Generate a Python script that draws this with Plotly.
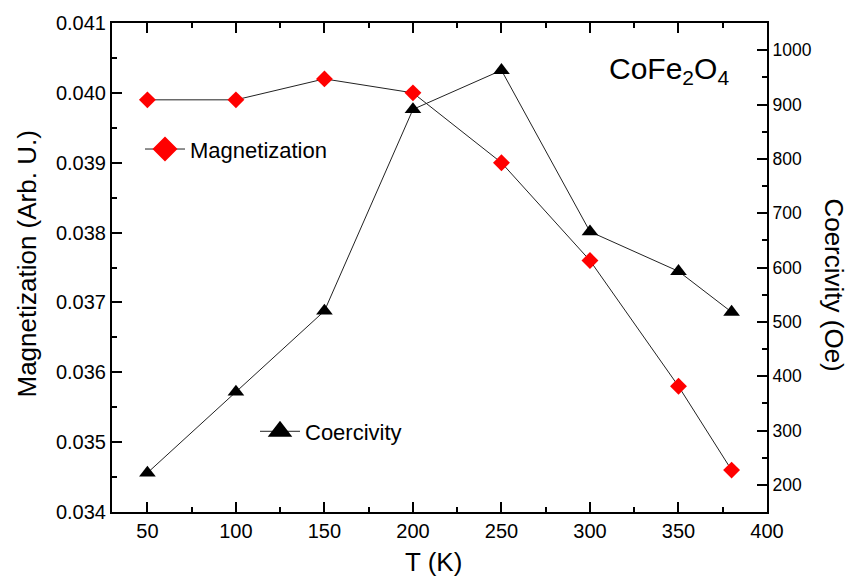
import plotly.graph_objects as go

# Data
temperature = [50, 100, 150, 200, 250, 300, 350, 380]
magnetization = [0.0399, 0.0399, 0.0402, 0.0400, 0.0390, 0.0376, 0.0358, 0.0346]
coercivity = [222, 371, 520, 891, 963, 666, 593, 518]

x_range = [30, 400]
y_left_range = [0.034, 0.041]
y_right_range = [150, 1050]

FONT = "Liberation Sans, Arial, sans-serif"

# pixel helpers for layout placement (paper coords)
L, R, T, B = 112, 85, 20, 71
W, H = 852, 583
PW, PH = W - L - R, H - T - B


def px(x):
    return (x - L) / PW


def py(y):
    return 1 - (y - T) / PH


fig = go.Figure()

fig.add_trace(go.Scatter(
    x=temperature, y=magnetization, name="Magnetization",
    mode="lines+markers", showlegend=False,
    line=dict(color="#222222", width=1),
    marker=dict(symbol="diamond", size=13, color="#ff0000", line=dict(width=0)),
))

fig.add_trace(go.Scatter(
    x=temperature, y=coercivity, name="Coercivity",
    mode="lines+markers", yaxis="y2", showlegend=False,
    line=dict(color="#222222", width=1),
    marker=dict(symbol="triangle-up", size=14.5, color="#000000", line=dict(width=0)),
))

# legend entries (larger symbols, like the reference's legend)
fig.add_trace(go.Scatter(
    x=[None], y=[None], name="Magnetization", mode="lines+markers",
    line=dict(color="#222222", width=1),
    marker=dict(symbol="diamond", size=16, color="#ff0000", line=dict(width=3, color="#ff0000")),
    legend="legend",
))
fig.add_trace(go.Scatter(
    x=[None], y=[None], name="Coercivity", mode="lines+markers", yaxis="y2",
    line=dict(color="#222222", width=1),
    marker=dict(symbol="triangle-up", size=16, color="#000000", line=dict(width=3, color="#000000")),
    legend="legend2",
))

axis_common = dict(
    showline=True, linecolor="black", linewidth=2,
    ticks="inside", ticklen=10, tickwidth=2, tickcolor="black",
    showgrid=False, zeroline=False,
)

fig.update_layout(
    width=W, height=H,
    margin=dict(l=L, r=R, t=T, b=B),
    paper_bgcolor="white", plot_bgcolor="white",
    font=dict(family=FONT, color="black"),
    xaxis=dict(
        range=x_range, dtick=50, tick0=0, mirror="ticks",
        tickfont=dict(size=20, family=FONT),
        minor=dict(dtick=25, ticks="inside", ticklen=5, tickwidth=2, tickcolor="black"),
        **axis_common,
    ),
    yaxis=dict(
        range=y_left_range, dtick=0.001, tick0=0, tickformat=".3f",
        tickfont=dict(size=20, family=FONT),
        minor=dict(dtick=0.0005, ticks="inside", ticklen=5, tickwidth=2, tickcolor="black"),
        **axis_common,
    ),
    yaxis2=dict(
        range=y_right_range, dtick=100, tick0=0, overlaying="y", side="right", anchor="x",
        tickfont=dict(size=17.5, family=FONT),
        minor=dict(dtick=50, ticks="inside", ticklen=5, tickwidth=2, tickcolor="black"),
        **axis_common,
    ),
    legend=dict(
        x=px(140), y=py(147), xanchor="left", yanchor="middle",
        bgcolor="rgba(0,0,0,0)", borderwidth=0, itemwidth=40,
        font=dict(size=22, family=FONT),
    ),
    legend2=dict(
        x=px(255), y=py(431), xanchor="left", yanchor="middle",
        bgcolor="rgba(0,0,0,0)", borderwidth=0, itemwidth=40,
        font=dict(size=22, family=FONT),
    ),
    showlegend=True,
)

annotations = [
    dict(text="CoFe<sub>2</sub>O<sub>4</sub>", x=px(669), y=py(68), xref="paper", yref="paper",
         xanchor="center", yanchor="middle", showarrow=False, font=dict(size=30, family=FONT)),
    dict(text="T (K)", x=px(433), y=py(562), xref="paper", yref="paper",
         xanchor="center", yanchor="middle", showarrow=False, font=dict(size=26, family=FONT)),
    dict(text="Magnetization (Arb. U.)", x=px(27), y=py(263), xref="paper", yref="paper",
         xanchor="center", yanchor="middle", showarrow=False, textangle=-90,
         font=dict(size=26, family=FONT)),
    dict(text="Coercivity (Oe)", x=px(834), y=py(283), xref="paper", yref="paper",
         xanchor="center", yanchor="middle", showarrow=False, textangle=90,
         font=dict(size=26, family=FONT)),
]
fig.update_layout(annotations=annotations)

fig.write_html("out.html")
